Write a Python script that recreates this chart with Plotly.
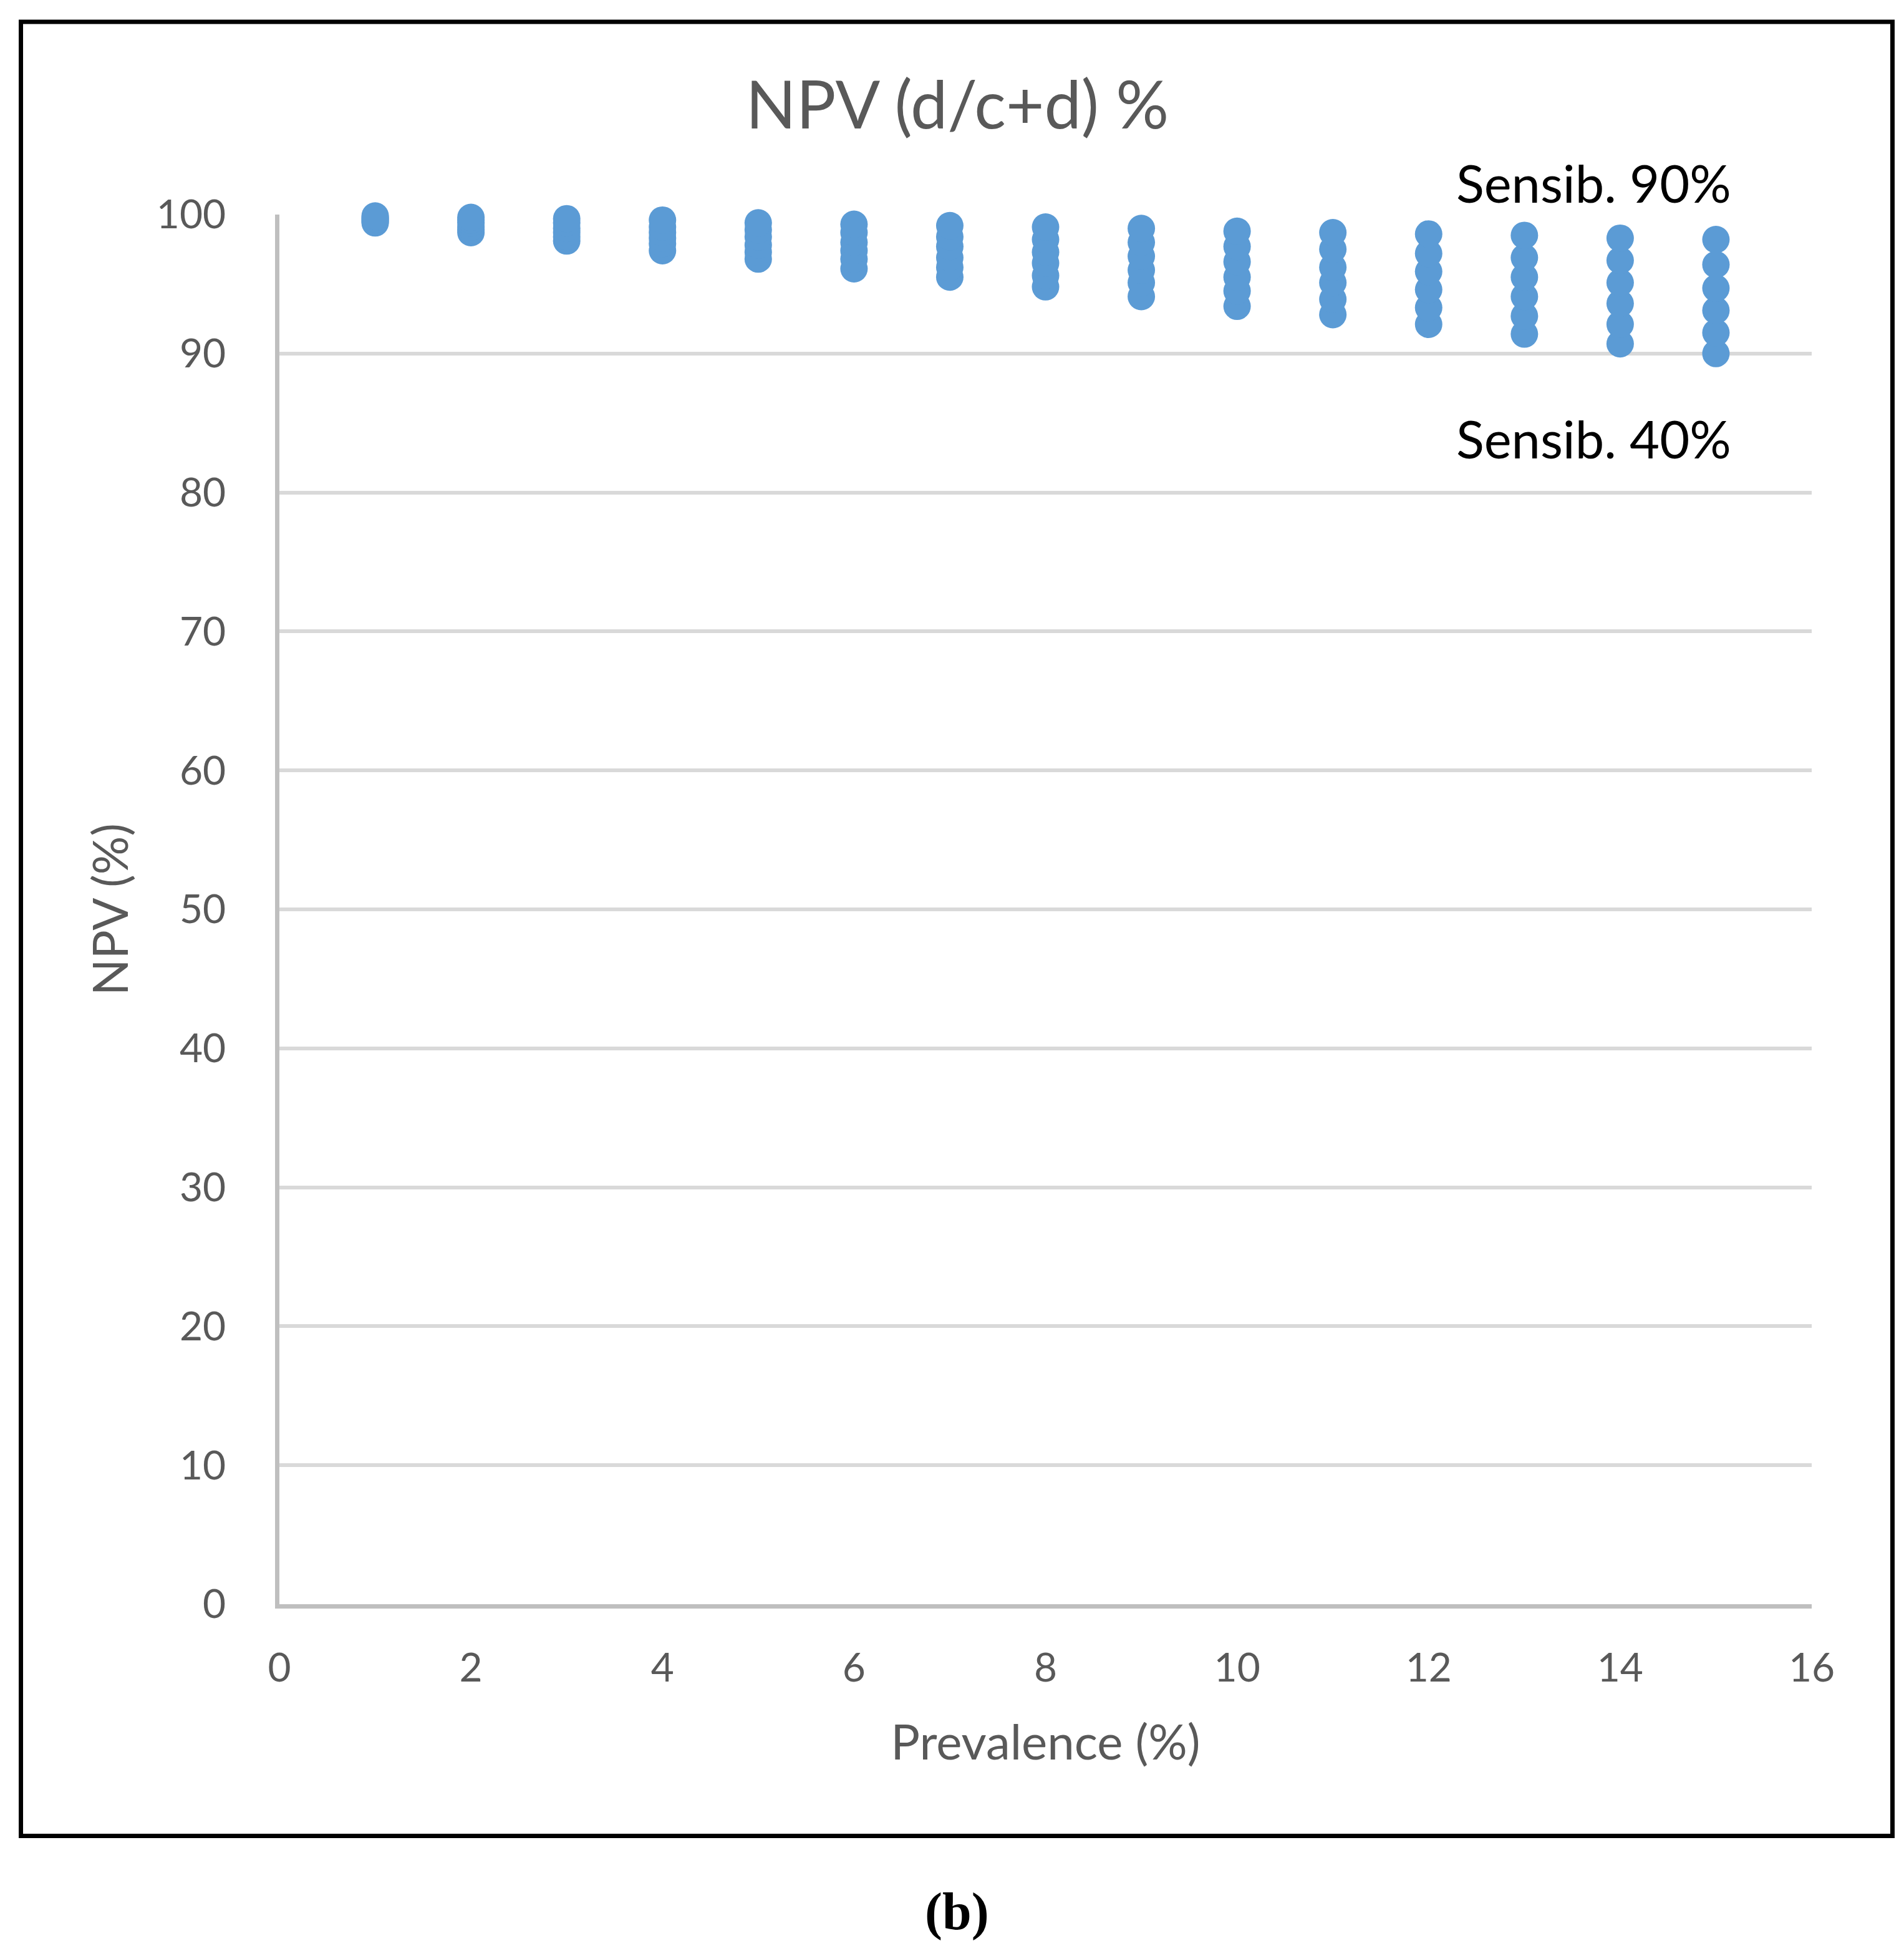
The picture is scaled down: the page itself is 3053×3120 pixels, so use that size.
import plotly.graph_objects as go

# Prevalence (%) categories
prevalence = [1, 2, 3, 4, 5, 6, 7, 8, 9, 10, 11, 12, 13, 14, 15]

# NPV (%), one list per sensitivity level
npv_sens40 = [99.4, 98.7, 98.1, 97.4, 96.8, 96.1, 95.5, 94.8, 94.1, 93.4, 92.8, 92.1, 91.4, 90.7, 90.0]
npv_sens50 = [99.5, 98.9, 98.4, 97.9, 97.3, 96.8, 96.2, 95.6, 95.1, 94.5, 93.9, 93.3, 92.7, 92.1, 91.5]
npv_sens60 = [99.6, 99.1, 98.7, 98.3, 97.8, 97.4, 96.9, 96.5, 96.0, 95.5, 95.1, 94.6, 94.1, 93.6, 93.1]
npv_sens70 = [99.7, 99.4, 99.0, 98.7, 98.4, 98.0, 97.7, 97.3, 97.0, 96.6, 96.2, 95.9, 95.5, 95.1, 94.7]
npv_sens80 = [99.8, 99.6, 99.4, 99.1, 98.9, 98.7, 98.4, 98.2, 98.0, 97.7, 97.5, 97.2, 96.9, 96.7, 96.4]
npv_sens90 = [99.9, 99.8, 99.7, 99.6, 99.4, 99.3, 99.2, 99.1, 99.0, 98.8, 98.7, 98.6, 98.5, 98.3, 98.2]

series = [
    ("Sensib. 40%", npv_sens40),
    ("Sensib. 50%", npv_sens50),
    ("Sensib. 60%", npv_sens60),
    ("Sensib. 70%", npv_sens70),
    ("Sensib. 80%", npv_sens80),
    ("Sensib. 90%", npv_sens90),
]

x_ticks = [0, 2, 4, 6, 8, 10, 12, 14, 16]
y_ticks = [0, 10, 20, 30, 40, 50, 60, 70, 80, 90, 100]

W, H = 3053, 3120
L, R, T, B = 440, 156, 336, 556
pw, ph = W - L - R, H - T - B

def px(xp):
    return (xp - L) / pw

def py(yp):
    return (H - B - yp) / ph

FONT = "Lato"
GREY = "#595959"

fig = go.Figure()
for name, vals in series:
    fig.add_trace(go.Scatter(
        x=prevalence, y=vals, mode="markers", name=name,
        marker=dict(color="#5B9BD5", size=44, line=dict(width=0)),
        cliponaxis=False, showlegend=False,
    ))

fig.update_layout(
    width=W, height=H,
    margin=dict(l=L, r=R, t=T, b=B, autoexpand=False),
    paper_bgcolor="white", plot_bgcolor="white",
    font=dict(family=FONT, color=GREY, size=64),
    title=dict(text="NPV (d/c+d) %", x=1527 / W, xref="container", xanchor="center",
               y=1 - 161 / H, yref="container", yanchor="middle",
               font=dict(family=FONT, size=106, color=GREY)),
    xaxis=dict(range=[0, 16], tickvals=x_ticks, showgrid=False, zeroline=False,
               showline=True, linecolor="#BFBFBF", linewidth=7, ticks="",
               ticklabelstandoff=40, tickfont=dict(size=64, color=GREY),
               title=dict(text="Prevalence (%)", standoff=60,
                          font=dict(size=78, color=GREY))),
    yaxis=dict(range=[0, 100], tickvals=y_ticks, showgrid=True, gridcolor="#D9D9D9",
               gridwidth=6, zeroline=False, showline=True, linecolor="#BFBFBF",
               linewidth=7, ticks="", ticklabelstandoff=66,
               tickfont=dict(size=64, color=GREY),
               title=dict(text="NPV (%)", standoff=22,
                          font=dict(size=77, color=GREY))),
    annotations=[
        dict(text="Sensib. 90%", x=px(2547), y=py(285), xref="paper", yref="paper",
             showarrow=False, xanchor="center", yanchor="middle",
             font=dict(family=FONT, size=83, color="black")),
        dict(text="Sensib. 40%", x=px(2547), y=py(695), xref="paper", yref="paper",
             showarrow=False, xanchor="center", yanchor="middle",
             font=dict(family=FONT, size=83, color="black")),
        dict(text="<b>(b)</b>", x=px(1526), y=py(3057), xref="paper", yref="paper",
             showarrow=False, xanchor="center", yanchor="middle",
             font=dict(family="Liberation Serif", size=84, color="black")),
    ],
    shapes=[
        dict(type="rect", xref="paper", yref="paper",
             x0=px(25.5), x1=px(3026.5), y0=py(2935.5), y1=py(27),
             line=dict(color="black", width=7), fillcolor="rgba(0,0,0,0)", layer="above"),
    ],
)

fig.write_html("out.html")
